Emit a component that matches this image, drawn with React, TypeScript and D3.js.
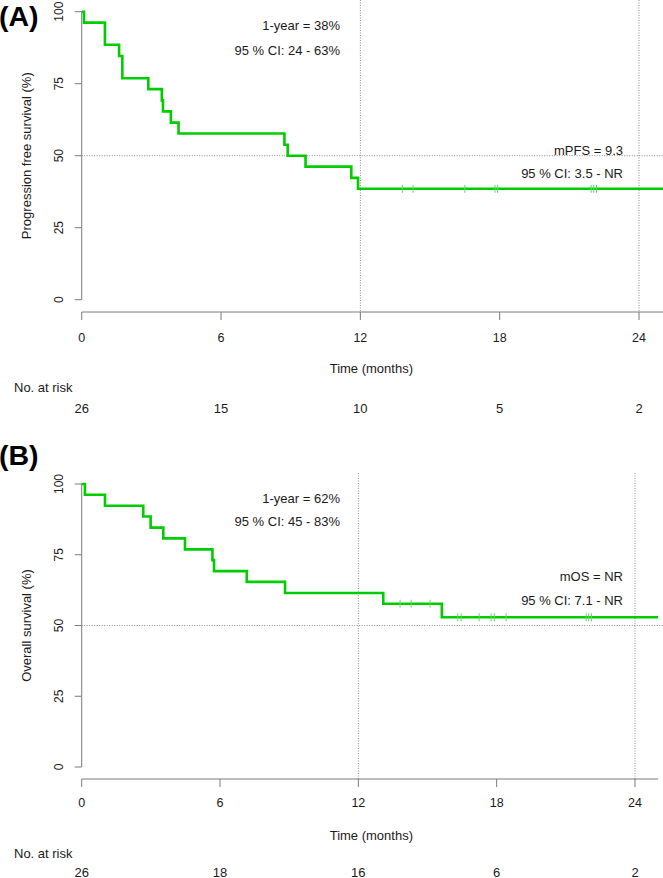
import React from "react";
import * as d3 from "d3";

// ---------- data ----------
const xTicks = [0, 6, 12, 18, 24];
const yTicks = [0, 25, 50, 75, 100];

const pfsStepTime = [0, 0.1, 1.0, 1.61, 1.75, 2.87, 3.45, 3.5, 3.84, 4.17, 8.73, 8.87, 9.64, 11.61, 11.9];
const pfsStepSurv = [100, 96.2, 88.5, 84.6, 76.9, 73.1, 69.2, 65.4, 61.5, 57.7, 53.8, 50.0, 46.2, 42.3, 38.5];
const pfsCensorTimes = [13.81, 14.27, 16.5, 17.8, 17.91, 21.94, 22.05, 22.17];
const pfsAtRisk = [26, 15, 10, 5, 2];
const pfsNotes = ["1-year = 38%", "95 % CI: 24 - 63%", "mPFS = 9.3", "95 % CI: 3.5 - NR"];

const osStepTime = [0, 0.14, 1.01, 2.67, 2.99, 3.54, 4.48, 5.67, 5.74, 7.16, 8.82, 13.08, 15.62];
const osStepSurv = [100, 96.2, 92.3, 88.5, 84.6, 80.8, 76.9, 73.1, 69.2, 65.4, 61.5, 57.7, 52.9];
const osCensorTimes = [13.81, 14.29, 15.11, 16.31, 16.46, 17.24, 17.76, 17.9, 18.41, 21.88, 21.99, 22.11];
const osAtRisk = [26, 18, 16, 6, 2];
const osNotes = ["1-year = 62%", "95 % CI: 45 - 83%", "mOS = NR", "95 % CI: 7.1 - NR"];

const FONT = "'Liberation Sans', Arial, sans-serif";
const GREEN = "#00CD00";
const GRID = "#8a8a8a";
const AXIS = "#7a7a7a";
const TEXT = "#1a1a1a";

type PanelProps = {
  label: string;
  yLabel: string;
  stepTime: number[];
  stepSurv: number[];
  censor: number[];
  atRisk: number[];
  notes: string[];
  top: number; // top of plot region
  y100: number;
  y0: number;
  axisY: number;
  x24: number;
  xEndPx: number;
  labelBase: number;
  noteY: number[];
  offs: number[]; // tick label, axis title, "No. at risk", at-risk numbers
};

function Panel(p: PanelProps) {
  const x = d3.scaleLinear().domain([0, 24]).range([81.7, p.x24]);
  const y = d3.scaleLinear().domain([0, 100]).range([p.y0, p.y100]);
  const tEnd = x.invert(p.xEndPx);
  const pts: [number, number][] = p.stepTime.map((t, i) => [t, p.stepSurv[i]]);
  pts.push([tEnd, p.stepSurv[p.stepSurv.length - 1]]);
  const line = d3
    .line<[number, number]>()
    .x((d) => x(d[0]))
    .y((d) => y(d[1]))
    .curve(d3.curveStepAfter);
  const survAt = (t: number) => {
    const i = d3.bisectRight(p.stepTime, t) - 1;
    return p.stepSurv[Math.max(0, i)];
  };
  const xR = 663;
  return (
    <g>
      <text x={-1} y={p.labelBase} fontFamily={FONT} fontWeight="bold" fontSize={28.5} fill="#000">
        {p.label}
      </text>
      {/* dotted reference lines */}
      <line x1={x(0)} x2={xR} y1={y(50)} y2={y(50)} stroke={GRID} strokeWidth={1} strokeDasharray="1,1.5" />
      {[12, 24].map((t) => (
        <line key={t} x1={x(t)} x2={x(t)} y1={p.top} y2={p.axisY} stroke={GRID} strokeWidth={1} strokeDasharray="1,1.5" />
      ))}
      {/* y axis */}
      <line x1={x(0)} x2={x(0)} y1={y(0)} y2={y(100)} stroke={AXIS} strokeWidth={1} />
      {yTicks.map((v) => (
        <g key={v}>
          <line x1={x(0) - 7} x2={x(0)} y1={y(v)} y2={y(v)} stroke={AXIS} strokeWidth={1} />
          <text
            transform={`translate(62.5,${y(v)}) rotate(-90)`}
            textAnchor="middle"
            fontFamily={FONT}
            fontSize={12}
            fill={TEXT}
          >
            {v}
          </text>
        </g>
      ))}
      <text
        transform={`translate(31,${(y(0) + y(100)) / 2}) rotate(-90)`}
        textAnchor="middle"
        fontFamily={FONT}
        fontSize={13}
        fill={TEXT}
      >
        {p.yLabel}
      </text>
      {/* x axis */}
      <line x1={x(0)} x2={p.xEndPx} y1={p.axisY} y2={p.axisY} stroke={AXIS} strokeWidth={1} />
      {xTicks.map((t) => (
        <g key={t}>
          <line x1={x(t)} x2={x(t)} y1={p.axisY} y2={p.axisY + 8} stroke={AXIS} strokeWidth={1} />
          <text x={x(t)} y={p.axisY + p.offs[0]} textAnchor="middle" fontFamily={FONT} fontSize={12.5} fill={TEXT}>
            {t}
          </text>
        </g>
      ))}
      <text x={(x(0) + 661) / 2} y={p.axisY + p.offs[1]} textAnchor="middle" fontFamily={FONT} fontSize={13} fill={TEXT}>
        Time (months)
      </text>
      <text x={14} y={p.axisY + p.offs[2]} fontFamily={FONT} fontSize={13} fill={TEXT}>
        No. at risk
      </text>
      {xTicks.map((t, i) => (
        <text key={t} x={x(t)} y={p.axisY + p.offs[3]} textAnchor="middle" fontFamily={FONT} fontSize={13} fill={TEXT}>
          {p.atRisk[i]}
        </text>
      ))}
      {/* annotations */}
      <text x={340} y={p.noteY[0]} textAnchor="end" fontFamily={FONT} fontSize={13} fill={TEXT}>
        {p.notes[0]}
      </text>
      <text x={340} y={p.noteY[1]} textAnchor="end" fontFamily={FONT} fontSize={13} fill={TEXT}>
        {p.notes[1]}
      </text>
      <text x={623} y={p.noteY[2]} textAnchor="end" fontFamily={FONT} fontSize={13} fill={TEXT}>
        {p.notes[2]}
      </text>
      <text x={623} y={p.noteY[3]} textAnchor="end" fontFamily={FONT} fontSize={13} fill={TEXT}>
        {p.notes[3]}
      </text>
      {/* curve */}
      <path d={line(pts) || ""} fill="none" stroke={GREEN} strokeWidth={2.6} strokeLinejoin="miter" />
      {p.censor.map((t, i) => (
        <line
          key={i}
          x1={x(t)}
          x2={x(t)}
          y1={y(survAt(t)) - 4}
          y2={y(survAt(t)) + 4}
          stroke="#5fdc5f"
          strokeWidth={1}
        />
      ))}
    </g>
  );
}

export default function App() {
  return (
    <svg
      width={663}
      height={878}
      style={{ position: "absolute", left: 0, top: 0, background: "#fff" }}
    >
      <rect width={663} height={878} fill="#fff" />
      <Panel
        label="(A)"
        yLabel="Progression free survival (%)"
        stepTime={pfsStepTime}
        stepSurv={pfsStepSurv}
        censor={pfsCensorTimes}
        atRisk={pfsAtRisk}
        notes={pfsNotes}
        top={0}
        y100={11.7}
        y0={299.7}
        axisY={312}
        x24={639}
        xEndPx={663}
        labelBase={26}
        noteY={[29.5, 54.5, 154.5, 177.5]}
        offs={[29.5, 60.5, 79.5, 100.5]}
      />
      <Panel
        label="(B)"
        yLabel="Overall survival (%)"
        stepTime={osStepTime}
        stepSurv={osStepSurv}
        censor={osCensorTimes}
        atRisk={osAtRisk}
        notes={osNotes}
        top={473}
        y100={484}
        y0={767}
        axisY={779}
        x24={635}
        xEndPx={658}
        labelBase={465}
        noteY={[503, 526, 581, 604.5]}
        offs={[28, 60.5, 78.5, 97.5]}
      />
    </svg>
  );
}
